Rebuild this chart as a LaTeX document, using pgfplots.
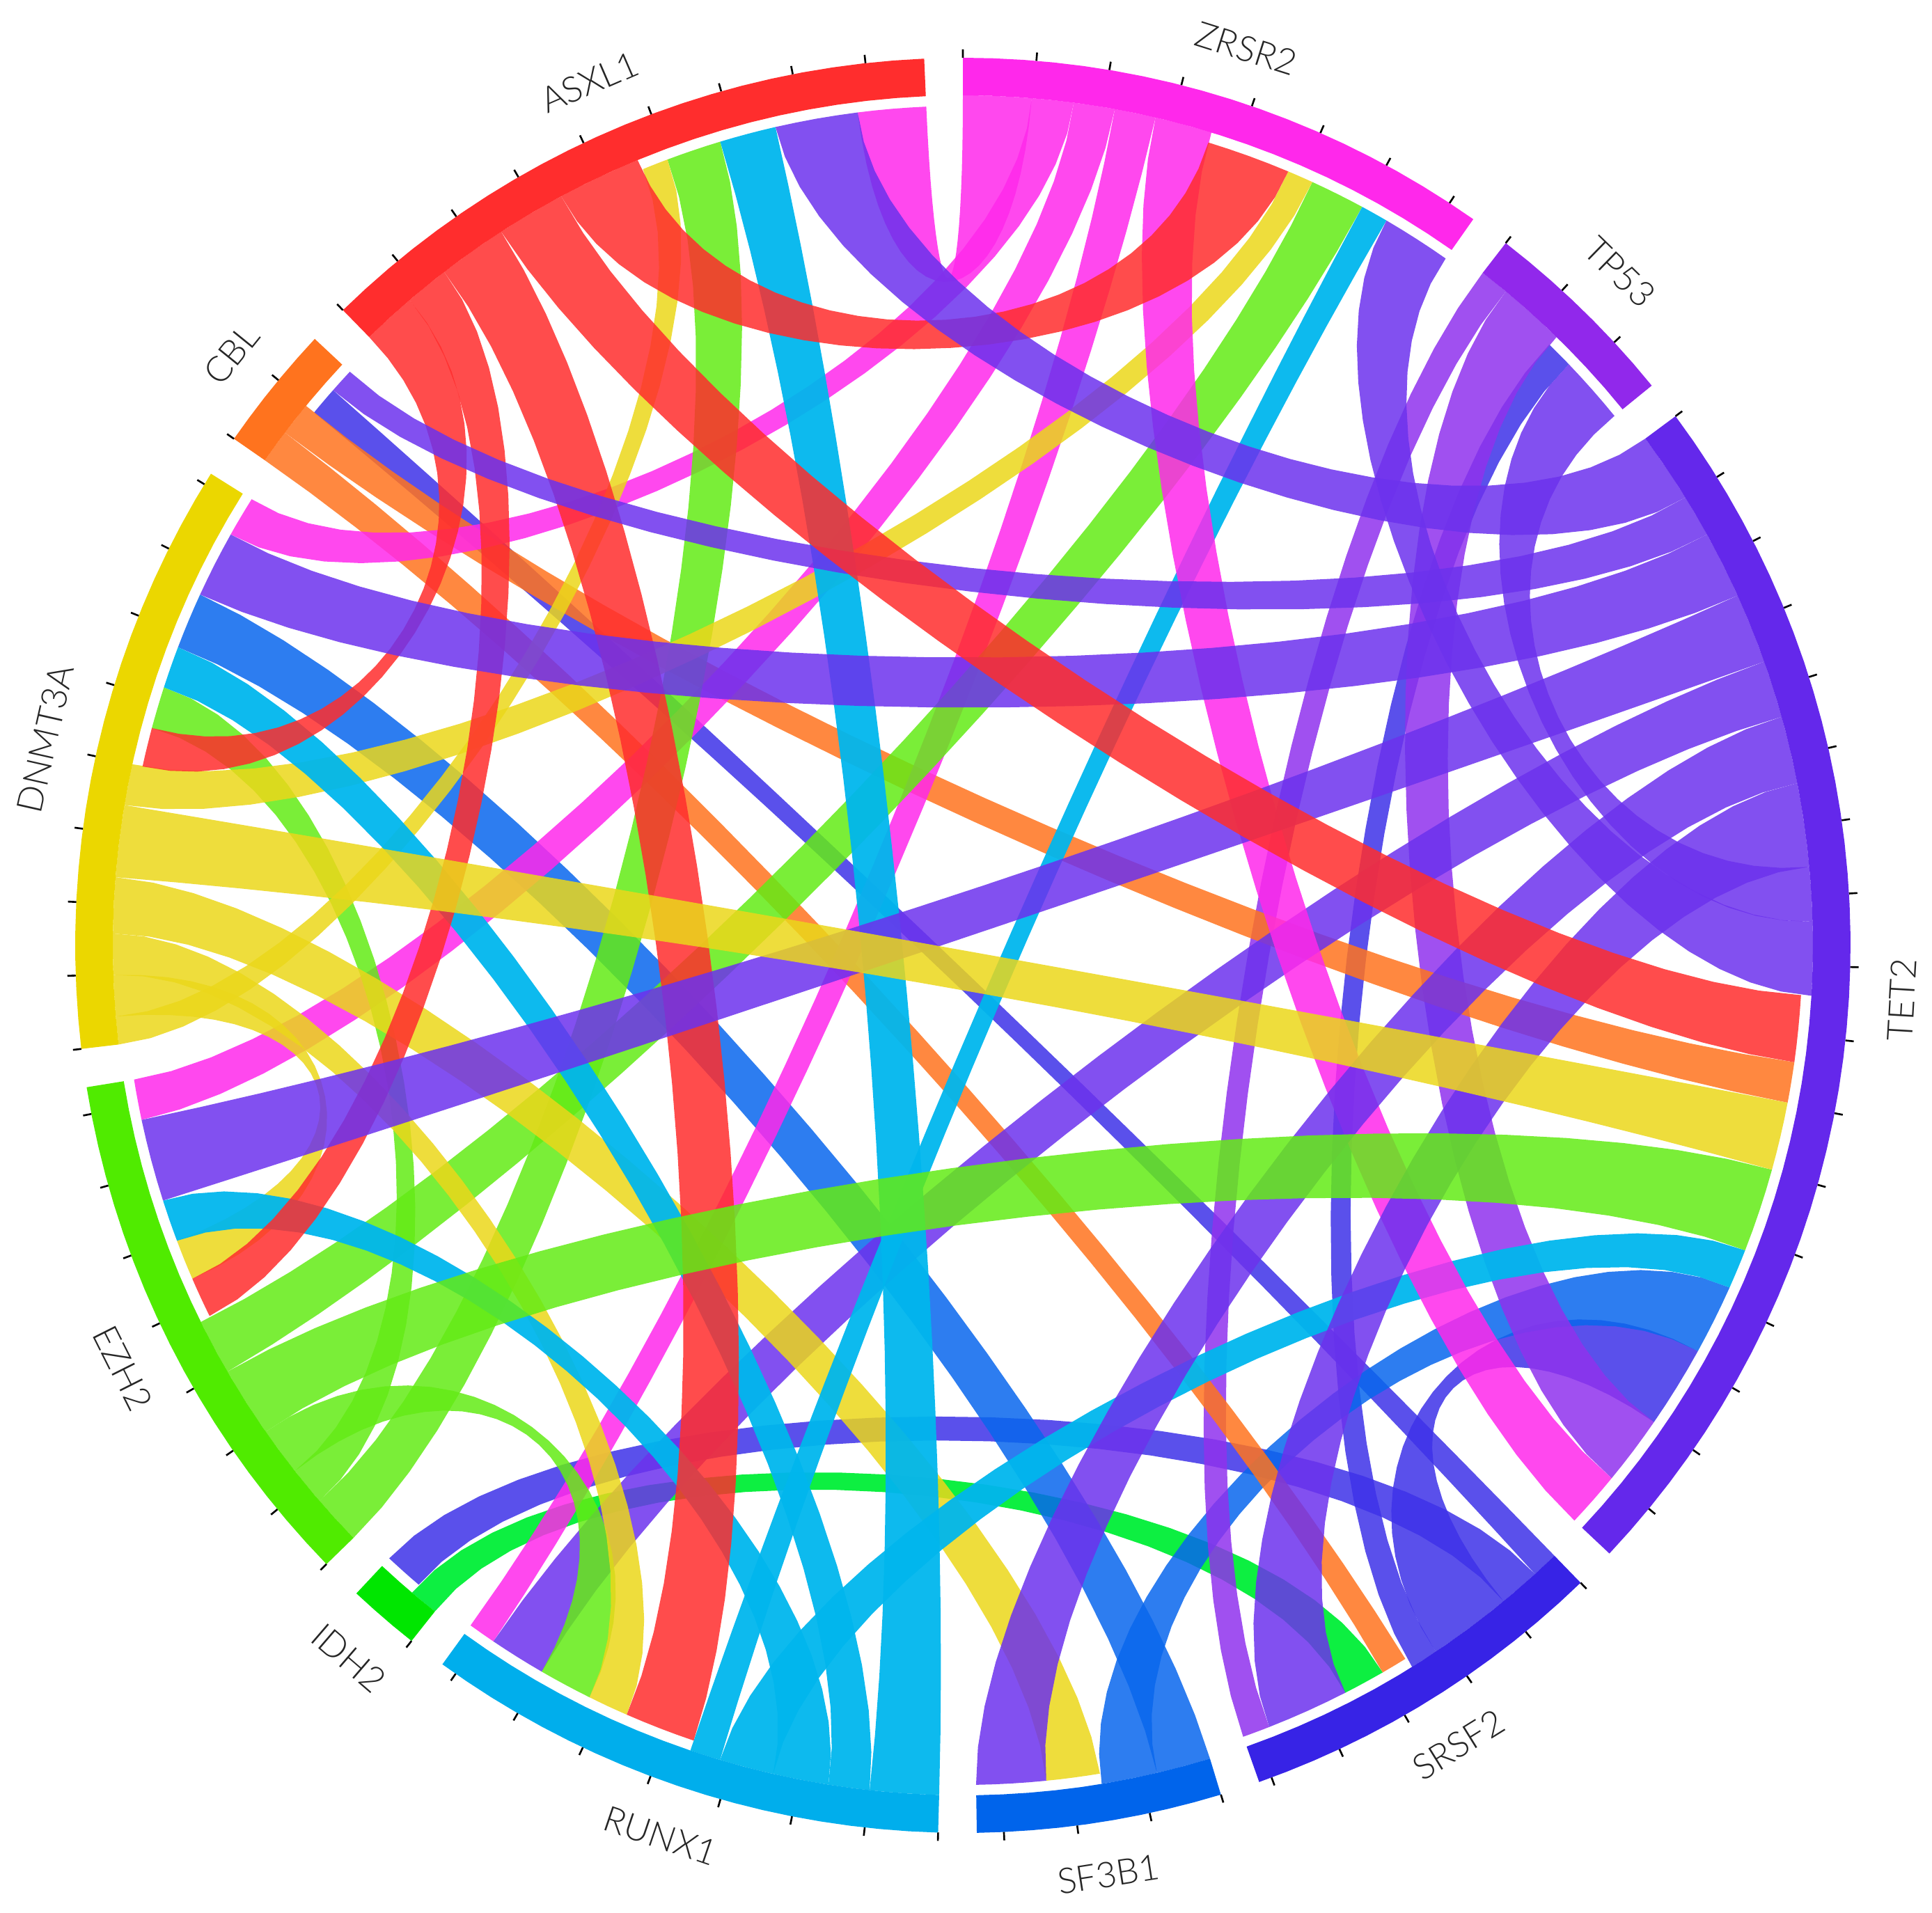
\documentclass[border=0pt]{standalone}
\usepackage{pgfplots}
\usepackage{fontspec}
\pgfplotsset{compat=1.18}
\setmainfont{Lato}[UprightFont=* Light]

% ring colours, one per gene
\definecolor{cASXL}{RGB}{255,45,45}
\definecolor{cCBL}{RGB}{255,115,30}
\definecolor{cDNMT}{RGB}{235,215,0}
\definecolor{cEZH}{RGB}{80,235,0}
\definecolor{cIDH}{RGB}{0,230,0}
\definecolor{cRUNX}{RGB}{0,174,236}
\definecolor{cSF}{RGB}{0,100,235}
\definecolor{cSRSF}{RGB}{55,35,230}
\definecolor{cTET}{RGB}{100,40,235}
\definecolor{cTP}{RGB}{145,40,235}
\definecolor{cZRSR}{RGB}{255,40,235}
% ribbon colours
\definecolor{rDNMT}{RGB}{235,215,26}
\definecolor{rEZH}{RGB}{99,235,21}
\definecolor{rIDH}{RGB}{0,238,55}
\definecolor{rRUNX}{RGB}{0,182,237}
\definecolor{rSF}{RGB}{8,102,237}
\definecolor{rSRSF}{RGB}{61,49,232}
\definecolor{rTET}{RGB}{108,49,237}
\definecolor{rTP}{RGB}{143,49,237}

% geometry, in pixels of the reference
\def\cx{1383}\def\cy{1389}
\def\Rsrc{1221}\def\Rdst{1206}\def\Rout{1275}\def\Rtick{1287}\def\Rlab{1351}
\def\chop{0.85}

% append an arc, angle #1 to #2 clockwise from the top, radius #3
\newcommand\arcpts[3]{%
  \foreach \f in {0,0.25,0.5,0.75,1}{%
    \pgfmathsetmacro\aa{#1+(#2-(#1))*\f}%
    \pgfmathsetmacro\px{\cx+#3*sin(\aa)}%
    \pgfmathsetmacro\py{\cy+#3*cos(\aa)}%
    \xdef\pts{\pts (\px,\py)}%
  }}
% append a cubic edge between two rim points; the wider the two points
% stand apart, the nearer the controls lie to the centre
\newcommand\edgepts[4]{%
  \pgfmathsetmacro\ax{#2*sin(#1)}\pgfmathsetmacro\ay{#2*cos(#1)}%
  \pgfmathsetmacro\bx{#4*sin(#3)}\pgfmathsetmacro\by{#4*cos(#3)}%
  \pgfmathsetmacro\sep{abs(#1-(#3))}%
  \pgfmathsetmacro\sep{min(\sep,360-\sep)/160}%
  \pgfmathsetmacro\kk{3*(0.72-0.27*\sep*\sep*\sep)}%
  \foreach \u in {0.04,0.08,0.12,0.16,0.2,0.24,0.28,0.32,0.36,0.4,0.44,0.48,0.52,0.56,0.6,0.64,0.68,0.72,0.76,0.8,0.84,0.88,0.92,0.96}{%
    \pgfmathsetmacro\wa{(1-\u)*(1-\u)*(1-\u+\kk*\u)}%
    \pgfmathsetmacro\wb{\u*\u*(\u+\kk*(1-\u))}%
    \pgfmathsetmacro\px{\cx+\wa*\ax+\wb*\bx}%
    \pgfmathsetmacro\py{\cy+\wa*\ay+\wb*\by}%
    \xdef\pts{\pts (\px,\py)}%
  }}
% colour, source from/to, target from/to (degrees)
\newcommand\chord[5]{%
  \gdef\pts{}%
  \arcpts{#2}{#3}{\Rsrc}\edgepts{#3}{\Rsrc}{#4}{\Rdst}%
  \arcpts{#4}{#5}{\Rdst}\edgepts{#5}{\Rdst}{#2}{\Rsrc}%
  \edef\tmp{\noexpand\addplot[draw=none,fill=#1,fill opacity=\chop,forget plot] coordinates {\pts};}\tmp}
% gene: colour, from, to, name
\newcommand\sector[4]{%
  \gdef\pts{}%
  \pgfmathtruncatemacro\nn{(#3-#2)/2+1}%
  \foreach \i in {0,...,\nn}{%
    \pgfmathsetmacro\aa{#2+(#3-#2)*\i/\nn}%
    \pgfmathsetmacro\px{\cx+\Rout*sin(\aa)}\pgfmathsetmacro\py{\cy+\Rout*cos(\aa)}%
    \xdef\pts{\pts (\px,\py)}}%
  \foreach \i in {\nn,...,0}{%
    \pgfmathsetmacro\aa{#2+(#3-#2)*\i/\nn}%
    \pgfmathsetmacro\px{\cx+\Rsrc*sin(\aa)}\pgfmathsetmacro\py{\cy+\Rsrc*cos(\aa)}%
    \xdef\pts{\pts (\px,\py)}}%
  \edef\tmp{\noexpand\addplot[draw=none,fill=#1,forget plot] coordinates {\pts};}\tmp
  % ticks every 4.75 degrees from the start of the gene
  \gdef\pts{}%
  \pgfmathtruncatemacro\nt{(#3-#2)/4.75}%
  \foreach \i in {0,...,\nt}{%
    \pgfmathsetmacro\aa{#2+4.75*\i}%
    \pgfmathsetmacro\px{\cx+\Rout*sin(\aa)}\pgfmathsetmacro\py{\cy+\Rout*cos(\aa)}%
    \pgfmathsetmacro\qx{\cx+\Rtick*sin(\aa)}\pgfmathsetmacro\qy{\cy+\Rtick*cos(\aa)}%
    \xdef\pts{\pts (\px,\py) (\qx,\qy) (nan,nan)}}%
  \edef\tmp{\noexpand\addplot[black,line width=0.75pt,unbounded coords=jump,forget plot] coordinates {\pts};}\tmp
  % name on the tangent
  \pgfmathsetmacro\mid{(#2+#3)/2}%
  \pgfmathsetmacro\lx{\cx+\Rlab*sin(\mid)}\pgfmathsetmacro\ly{\cy+\Rlab*cos(\mid)}%
  \pgfmathsetmacro\rot{(\mid>90 && \mid<270) ? 180-\mid : -\mid}%
  \edef\tmp{\noexpand\node[rotate=\rot,text=black!85,font=\noexpand\fontsize{14.5}{17}\noexpand\selectfont] at (axis cs:\lx,\ly) {#4};}\tmp
}

\begin{document}
\begin{tikzpicture}
\path[use as bounding box] (0,0) rectangle (27.75cm,27.47cm);
\begin{axis}[
    at={(0,0)}, anchor=south west,
    scale only axis, width=27.75cm, height=27.47cm,
    xmin=0, xmax=2775, ymin=0, ymax=2747,
    hide axis, clip=false, no markers,
]
% ribbons, lowest first
\def\chop{0.95}
\chord{rIDH}{218.4}{220.4}{150.0}{152.9}
\def\chop{0.85}
\chord{rSRSF}{135.9}{137.7}{309.4}{311.4}
\chord{rSRSF}{137.7}{140.5}{220.4}{223.1}
\chord{rSRSF}{140.5}{146.2}{118.9}{124.6}
\chord{rSRSF}{146.2}{148.1}{44.3}{46.2}
\chord{rSF}{163.1}{166.8}{290.8}{294.7}
\chord{rSF}{166.8}{170.6}{114.05}{118.9}
\chord{rTP}{37.7}{39.7}{158.6}{160.5}
\chord{rTP}{39.7}{44.3}{124.6}{129.4}
\chord{cCBL}{304.8}{307.1}{148.2}{150.0}
\chord{cCBL}{307.1}{309.4}{98.0}{100.8}
\chord{cZRSR}{0.0}{4.65}{352.8}{357.5}
\chord{cZRSR}{4.65}{7.5}{299.3}{302.1}
\chord{cZRSR}{7.5}{10.3}{258.0}{260.8}
\chord{cZRSR}{10.3}{13.1}{214.0}{215.9}
\chord{rTET}{70.5}{74.4}{210.1}{214.0}
\chord{rEZH}{225.8}{229.2}{339.4}{343.2}
\chord{rEZH}{229.2}{231.8}{285.0}{287.9}
\chord{rEZH}{231.8}{235.1}{206.4}{210.1}
\chord{rEZH}{239.9}{243.7}{24.6}{28.4}
\chord{rDNMT}{263.3}{265.2}{337.6}{339.4}
\chord{rDNMT}{265.2}{268.0}{246.6}{249.4}
\chord{rDNMT}{268.0}{270.8}{203.6}{206.4}
\chord{rDNMT}{270.8}{274.6}{170.6}{174.3}
\chord{rDNMT}{279.5}{282.3}{22.8}{24.6}
\def\chop{0.95}
\chord{rRUNX}{181.6}{186.3}{343.2}{347.1}
\chord{rRUNX}{186.3}{189.1}{287.9}{290.8}
\chord{rRUNX}{189.1}{192.9}{249.4}{252.3}
\chord{rRUNX}{192.9}{196.6}{111.3}{114.05}
\chord{rRUNX}{196.6}{198.7}{28.4}{30.3}
\def\chop{0.85}
\chord{cZRSR}{13.1}{17.0}{129.4}{133.25}
\chord{cASXL}{315.7}{319.4}{282.3}{285.0}
\chord{cASXL}{319.4}{322.4}{243.8}{246.6}
\chord{cASXL}{322.4}{327.1}{198.7}{203.6}
\chord{cASXL}{331.8}{337.5}{17.0}{22.8}
\chord{rTET}{53.4}{58.2}{347.1}{352.8}
\chord{rTET}{58.2}{61.1}{311.4}{313.1}
\chord{rTET}{61.1}{65.7}{294.7}{299.3}
\chord{rTET}{65.7}{70.5}{252.3}{258.0}
\chord{rTET}{74.4}{79.0}{174.3}{179.1}
\chord{rTET}{79.0}{84.7}{152.9}{158.6}
\chord{rTET}{84.7}{88.4}{46.2}{50.9}
\chord{rTET}{88.4}{93.4}{30.3}{35.1}
\chord{rEZH}{235.1}{239.9}{105.5}{111.3}
\chord{cASXL}{327.1}{331.8}{93.4}{98.0}
\chord{rDNMT}{274.6}{279.5}{100.8}{105.5}
% outer ring, ticks, names
\sector{cZRSR}{0.0}{35.1}{ZRSR2}
\sector{cTP}{37.7}{50.9}{TP53}
\sector{cTET}{53.4}{133.25}{TET2}
\sector{cSRSF}{135.9}{160.5}{SRSF2}
\sector{cSF}{163.1}{179.1}{SF3B1}
\sector{cRUNX}{181.6}{215.9}{RUNX1}
\sector{cIDH}{218.4}{223.1}{IDH2}
\sector{cEZH}{225.8}{260.8}{EZH2}
\sector{cDNMT}{263.3}{302.1}{DNMT3A}
\sector{cCBL}{304.8}{313.1}{CBL}
\sector{cASXL}{315.7}{357.5}{ASXL1}
\end{axis}
\end{tikzpicture}
\end{document}
